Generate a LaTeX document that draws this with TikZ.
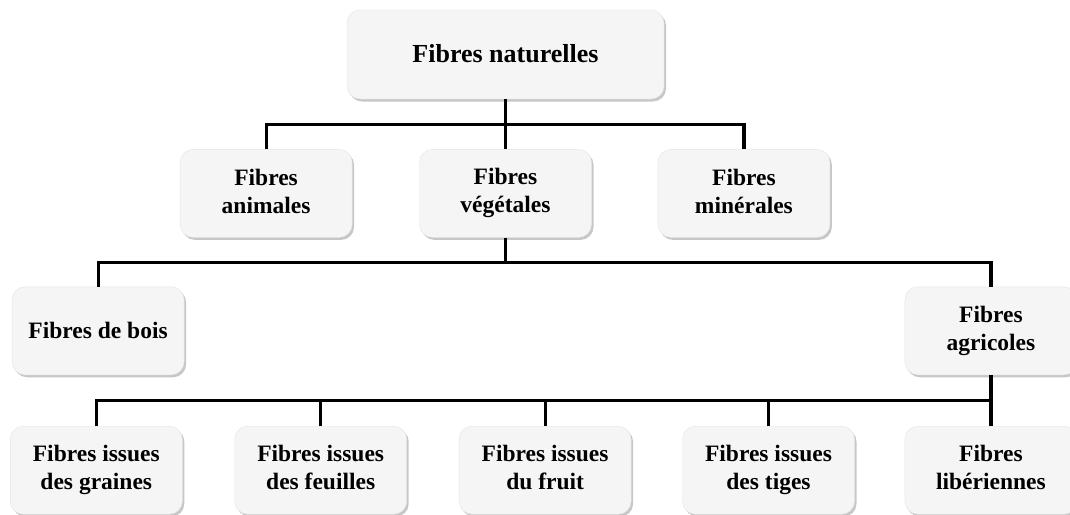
\documentclass[tikz,border=0pt]{standalone}
\usepackage{fontspec}
\setmainfont{Liberation Serif}
\usetikzlibrary{positioning, shadows}
\definecolor{boxfill}{HTML}{F5F5F5}
\definecolor{boxline}{HTML}{E4E4E4}
\newcommand{\fibrestrut}{\rule[-5pt]{0pt}{26pt}}
\tikzset{
  fibre/.style={rectangle, draw=boxline, fill=boxfill, rounded corners=13pt, align=center, minimum width=172pt, minimum height=88pt, inner sep=4pt, font=\fontsize{23.5}{28}\selectfont\bfseries, execute at begin node=\fibrestrut, execute at end node=\fibrestrut, drop shadow={shadow xshift=2pt, shadow yshift=-2.5pt, fill=black, opacity=0.22}},
  rootbox/.style={fibre, minimum width=317pt, minimum height=89pt, font=\fontsize{26}{30}\selectfont\bfseries},
  link/.style={line width=3.2pt, line join=miter, color=black},
}
\begin{document}
\begin{tikzpicture}
  \useasboundingbox (0,0) rectangle (1070pt,-514pt);
  \node[rootbox] (nat) at (505.5pt,-54.5pt) {Fibres naturelles};
  \node[fibre, below=50pt of nat] (veg) {Fibres\\végétales};
  \node[fibre, left=67pt of veg] (ani) {Fibres\\animales};
  \node[fibre, right=66pt of veg] (min) {Fibres\\minérales};
  \node[fibre, below left=49pt and 235pt of veg] (bois) {Fibres de bois};
  \node[fibre, below right=49pt and 313pt of veg] (agr) {Fibres\\agricoles};
  \node[fibre, below=51pt of agr] (lib) {Fibres\\libériennes};
  \node[fibre, left=50pt of lib] (tiges) {Fibres issues\\des tiges};
  \node[fibre, left=51pt of tiges] (fruit) {Fibres issues\\du fruit};
  \node[fibre, left=52pt of fruit] (feuilles) {Fibres issues\\des feuilles};
  \node[fibre, left=52pt of feuilles] (graines) {Fibres issues\\des graines};
  % bus lines
  \path (nat.south) -- (veg.north) coordinate[midway] (bus1);
  \path (veg.south) -- (veg.south |- bois.north) coordinate[midway] (bus2);
  \path (agr.south) -- (lib.north) coordinate[midway] (bus3);
  \draw[link] (nat.south) -- (veg.north);
  \draw[link] (ani.north) |- (bus1) -| (min.north);
  \draw[link] (veg.south) -- (bus2);
  \draw[link] (bois.north) |- (bus2) -| (agr.north);
  \draw[link] (agr.south) -- (lib.north);
  \draw[link] (graines.north) |- (bus3);
  \foreach \leaf in {feuilles, fruit, tiges}
    \draw[link] (\leaf.north) -- (\leaf.north |- bus3);
\end{tikzpicture}
\end{document}
